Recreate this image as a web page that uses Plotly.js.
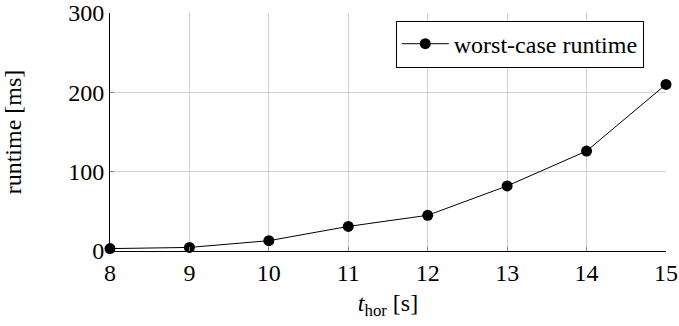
<!DOCTYPE html>
<html>
<head>
<meta charset="utf-8">
<script src="https://cdn.plot.ly/plotly-3.0.1.min.js"></script>
<style>
html,body{margin:0;padding:0;background:#fff;}
#chart{width:679px;height:326px;}
svg text{font-family:"Liberation Serif" !important;}
</style>
</head>
<body>
<div id="chart"></div>
<script>
const horizons = [8, 9, 10, 11, 12, 13, 14, 15];
const runtimeMs = [3, 4.5, 13, 31, 45, 82, 126, 210];
const seriesName = "worst-case runtime";
const yTicks = [0, 100, 200, 300];

function serif(size) { return {family: "Liberation Serif", size: size, color: "#000"}; }

const trace = {
  x: horizons, y: runtimeMs, name: seriesName,
  type: "scatter", mode: "lines+markers",
  line: {color: "#000", width: 1},
  marker: {color: "#000", size: 11},
  cliponaxis: false
};

const layout = {
  width: 679, height: 326,
  margin: {l: 110, r: 13, t: 13, b: 75},
  paper_bgcolor: "#fff", plot_bgcolor: "#fff",
  font: serif(24),
  showlegend: true,
  legend: {x: 0.514, y: 0.968, xanchor: "left", yanchor: "top",
           bordercolor: "#000", borderwidth: 1, bgcolor: "#fff",
           font: serif(24), itemwidth: 47},
  xaxis: {
    range: [8, 15], tickvals: horizons, ticktext: horizons.map(String),
    showgrid: true, gridcolor: "#d0d0d0", gridwidth: 1,
    zeroline: false, showline: true, linecolor: "#000", linewidth: 1,
    ticks: "inside", ticklen: 4, tickcolor: "#888",
    tickfont: serif(24),
    title: {text: "<i>t</i><sub>hor</sub> [s]", font: serif(24), standoff: 9}
  },
  yaxis: {
    range: [0, 300], tickvals: yTicks, ticktext: yTicks.map(String),
    showgrid: true, gridcolor: "#d0d0d0", gridwidth: 1,
    zeroline: false, showline: true, linecolor: "#000", linewidth: 1,
    ticks: "inside", ticklen: 4, tickcolor: "#888",
    tickfont: serif(24),
    title: {text: "runtime [ms]", font: serif(24), standoff: 42}
  }
};

Plotly.newPlot("chart", [trace], layout, {staticPlot: true, displayModeBar: false});
</script>
</body>
</html>
